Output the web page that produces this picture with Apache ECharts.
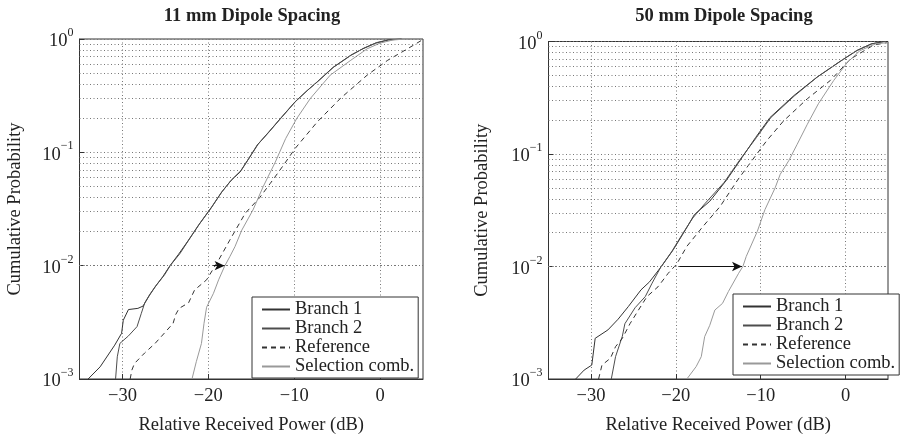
<!DOCTYPE html>
<html><head><meta charset="utf-8">
<script src="https://cdn.jsdelivr.net/npm/echarts@6/dist/echarts.min.js"></script>
<style>html,body{margin:0;padding:0;background:#fff}#c{width:902px;height:437px}</style>
</head><body><div id="c"></div>
<script>
// ---- data ----
const titles = ['11 mm Dipole Spacing', '50 mm Dipole Spacing'];
const seriesNames = ['Branch 1', 'Branch 2', 'Reference', 'Selection comb.'];
const xTicks = [-30, -20, -10, 0];
const yMinor = [0.002,0.003,0.004,0.005,0.006,0.007,0.008,0.009,
                0.02,0.03,0.04,0.05,0.06,0.07,0.08,0.09,
                0.2,0.3,0.4,0.5,0.6,0.7,0.8,0.9];

// 11 mm spacing: [relative received power (dB), cumulative probability]
const left_b1 = [[-34.0,0.001],[-32.6,0.00128],[-30.9,0.00199],[-30.1,0.00253],[-29.9,0.0033],[-29.3,0.0041],[-28.2,0.0042],[-27.6,0.0044],[-26.9,0.0054],[-26.2,0.0065],[-25.3,0.0080],[-24.5,0.0099],[-23.5,0.0125],[-22.3,0.0168],[-21.1,0.023],[-19.6,0.033],[-18.4,0.045],[-17.3,0.057],[-16.3,0.067],[-15.3,0.088],[-14.3,0.116],[-13.0,0.15],[-11.6,0.199],[-9.9,0.279],[-8.5,0.35],[-7.3,0.42],[-5.5,0.56],[-3.4,0.72],[-2.0,0.82],[-0.5,0.92],[1.0,0.98],[2.5,1.0]];
const left_b2 = [[-30.8,0.001],[-30.6,0.00157],[-30.3,0.00206],[-29.3,0.0024],[-28.3,0.0029],[-27.8,0.0038],[-27.4,0.0047],[-26.8,0.0056],[-26.0,0.0068],[-25.1,0.0083],[-24.4,0.0101],[-23.3,0.0128],[-22.2,0.0172],[-21.0,0.0235],[-19.7,0.032],[-18.5,0.044],[-17.4,0.056],[-16.2,0.069],[-15.2,0.09],[-14.2,0.118],[-12.9,0.152],[-11.5,0.202],[-9.8,0.283],[-8.4,0.355],[-7.2,0.425],[-5.4,0.565],[-3.3,0.725],[-1.9,0.83],[-0.4,0.93],[1.0,0.985],[2.5,1.0]];
const left_ref = [[-29.1,0.001],[-28.9,0.0012],[-28.6,0.00137],[-27.4,0.0017],[-26.2,0.00206],[-25.2,0.0025],[-24.1,0.0031],[-23.8,0.0037],[-23.4,0.0042],[-22.3,0.0047],[-21.6,0.0061],[-20.2,0.0075],[-18.8,0.0112],[-17.5,0.0168],[-15.7,0.029],[-14.0,0.040],[-12.8,0.053],[-11.3,0.076],[-9.9,0.108],[-7.3,0.186],[-4.6,0.30],[-1.5,0.48],[0.9,0.65],[3.2,0.82],[5.0,0.99]];
const left_sel = [[-21.9,0.001],[-21.4,0.00142],[-20.8,0.00206],[-20.5,0.0031],[-20.2,0.0043],[-19.4,0.0057],[-18.8,0.0075],[-18.1,0.0099],[-17.5,0.012],[-16.9,0.0147],[-16.1,0.0206],[-14.8,0.031],[-13.6,0.050],[-12.2,0.082],[-11.0,0.132],[-9.7,0.199],[-8.1,0.30],[-5.8,0.48],[-3.4,0.65],[-1.5,0.82],[0.0,0.92],[1.5,0.98],[3.0,1.0]];
const left_arrow = [-19.4, -18.1, 0.01];

// 50 mm spacing
const right_b1 = [[-31.8,0.001],[-30.8,0.0012],[-29.9,0.00133],[-29.5,0.0023],[-28.0,0.00273],[-26.8,0.0034],[-25.6,0.0044],[-24.1,0.0062],[-23.1,0.0073],[-21.7,0.0100],[-20.3,0.0141],[-19.1,0.0198],[-17.8,0.029],[-16.0,0.038],[-14.0,0.059],[-12.2,0.093],[-10.6,0.14],[-8.9,0.211],[-6.1,0.33],[-3.4,0.48],[-0.6,0.67],[1.3,0.83],[3.0,0.95],[4.5,1.0]];
const right_b2 = [[-27.6,0.001],[-27.1,0.00158],[-26.3,0.0024],[-26.0,0.0031],[-24.8,0.0043],[-23.6,0.0054],[-22.8,0.0071],[-21.8,0.0098],[-20.5,0.0135],[-19.3,0.019],[-18.0,0.027],[-16.6,0.036],[-14.3,0.056],[-12.4,0.09],[-10.5,0.14],[-8.8,0.211],[-6.0,0.33],[-3.3,0.485],[-0.5,0.675],[1.4,0.835],[3.1,0.955],[4.6,1.0]];
const right_ref = [[-29.1,0.001],[-28.7,0.00133],[-27.7,0.00153],[-27.1,0.00194],[-26.3,0.0023],[-25.4,0.0031],[-24.4,0.0041],[-23.4,0.0054],[-22.1,0.0066],[-20.9,0.0087],[-19.9,0.0105],[-18.7,0.0151],[-16.8,0.0227],[-14.8,0.034],[-12.7,0.059],[-11.2,0.084],[-9.3,0.131],[-7.3,0.197],[-4.5,0.31],[-1.8,0.45],[0.6,0.70],[3.3,0.93],[5.0,0.98]];
const right_sel = [[-18.7,0.001],[-17.6,0.00129],[-17.0,0.00158],[-16.6,0.00238],[-16.0,0.0030],[-15.4,0.0041],[-14.5,0.0047],[-13.8,0.0060],[-12.6,0.0087],[-12.1,0.0100],[-11.7,0.0123],[-10.4,0.0205],[-9.5,0.032],[-8.3,0.050],[-7.7,0.066],[-6.7,0.087],[-5.7,0.122],[-4.5,0.184],[-3.2,0.28],[-1.4,0.45],[0.2,0.65],[1.7,0.83],[3.5,0.95],[5.0,0.98]];
const right_arrow = [-19.6, -12.2, 0.01];

// ---- styling / layout ----
const FONT = 'Liberation Serif';
const TXT = '#222';
const DOT = [1, 2.5];
const grids = [
  {left: 79.5, top: 39, width: 343.5, height: 340},
  {left: 548.5, top: 41.5, width: 339.5, height: 337.5}
];
const titleCenters = [252, 724];
const yNameGaps = [55, 57];
const legendPos = [{left: 252, top: 297}, {left: 733, top: 294}];
const lineStyles = [
  {color: '#333', width: 1, type: 'solid'},
  {color: '#4d4d4d', width: 1, type: 'solid'},
  {color: '#333', width: 1, type: [5, 4]},
  {color: '#999', width: 1, type: 'solid'}
];
const panels = [
  {data: [left_b1, left_b2, left_ref, left_sel], arrow: left_arrow},
  {data: [right_b1, right_b2, right_ref, right_sel], arrow: right_arrow}
];

function yLabel(v) {
  const e = Math.round(Math.log10(v));
  return '{b|10}{s|' + (e < 0 ? '\u2212' + (-e) : e) + '}';
}

const option = {
  backgroundColor: '#fff',
  animation: false,
  title: titles.map((t, i) => ({
    text: t, left: titleCenters[i], top: 7, textAlign: 'center', padding: 0,
    textStyle: {fontFamily: FONT, fontSize: 18.5, fontWeight: 'bold', color: TXT}
  })),
  grid: grids.map(g => Object.assign({show: true, borderColor: '#333', borderWidth: 1,
    backgroundColor: 'transparent', containLabel: false, outerBoundsMode: 'none'}, g)),
  xAxis: grids.map((g, i) => ({
    type: 'value', gridIndex: i, min: -35, max: 5,
    name: 'Relative Received Power (dB)', nameLocation: 'middle', nameGap: 37,
    nameTextStyle: {fontFamily: FONT, fontSize: 18.5, color: TXT},
    axisLine: {show: true, onZero: false, lineStyle: {color: '#333'}},
    axisTick: {show: true, inside: true, length: 5, customValues: xTicks, lineStyle: {color: '#333'}},
    axisLabel: {customValues: xTicks, margin: 8, fontFamily: FONT, fontSize: 18.5, color: TXT,
      formatter: v => (v < 0 ? '\u2212' + (-v) : String(v))},
    splitLine: {show: true, lineStyle: {type: DOT, color: '#777', width: 1}}
  })),
  yAxis: grids.map((g, i) => ({
    type: 'log', logBase: 10, gridIndex: i, min: 0.001, max: 1,
    name: 'Cumulative Probability', nameLocation: 'middle', nameGap: yNameGaps[i],
    nameTextStyle: {fontFamily: FONT, fontSize: 18.5, color: TXT},
    axisLine: {show: true, onZero: false, lineStyle: {color: '#333'}},
    axisTick: {show: true, inside: true, length: 5, lineStyle: {color: '#333'}},
    axisLabel: {
      margin: 6, formatter: yLabel,
      rich: {
        b: {fontFamily: FONT, fontSize: 18.5, color: TXT, lineHeight: 24, verticalAlign: 'bottom'},
        s: {fontFamily: FONT, fontSize: 12, color: TXT, lineHeight: 14, verticalAlign: 'top'}
      }
    },
    splitLine: {show: true, lineStyle: {type: DOT, color: '#777', width: 1}}
  })),
  legend: legendPos.map((p, i) => ({
    left: p.left, top: p.top, orient: 'vertical',
    data: seriesNames,
    backgroundColor: '#fff', borderColor: '#333', borderWidth: 1, borderRadius: 0,
    padding: [3, 4, 2, 9], itemGap: 0, itemWidth: 28, itemHeight: 12,
    selectedMode: false,
    itemStyle: {opacity: 0},
    textStyle: {fontFamily: FONT, fontSize: 18.5, color: TXT, lineHeight: 18}
  })),
  series: []
};

panels.forEach((p, i) => {
  // minor grid lines (log decades 2..9)
  option.series.push({
    type: 'line', xAxisIndex: i, yAxisIndex: i, data: [], silent: true, z: 1,
    markLine: {
      silent: true, symbol: 'none', animation: false,
      label: {show: false},
      lineStyle: {type: DOT, color: '#777', width: 1},
      emphasis: {disabled: true},
      data: yMinor.map(v => ({yAxis: v}))
    }
  });
  p.data.forEach((d, k) => {
    option.series.push({
      type: 'line', name: seriesNames[k], xAxisIndex: i, yAxisIndex: i,
      data: d, symbol: 'none', showSymbol: false, smooth: false, z: 3,
      lineStyle: lineStyles[k], itemStyle: {color: lineStyles[k].color},
      emphasis: {disabled: true}
    });
  });
  // arrow annotation
  option.series.push({
    type: 'line', xAxisIndex: i, yAxisIndex: i, data: [], silent: true, z: 4,
    markLine: {
      silent: true, symbol: ['none', 'arrow'], symbolSize: [7, 10], animation: false,
      label: {show: false},
      lineStyle: {type: 'solid', color: '#111', width: 1},
      emphasis: {disabled: true},
      data: [[{coord: [p.arrow[0], p.arrow[2]]}, {coord: [p.arrow[1], p.arrow[2]]}]]
    }
  });
});

const chart = echarts.init(document.getElementById('c'), null, {renderer: 'canvas'});
chart.setOption(option);
</script>
</body></html>
